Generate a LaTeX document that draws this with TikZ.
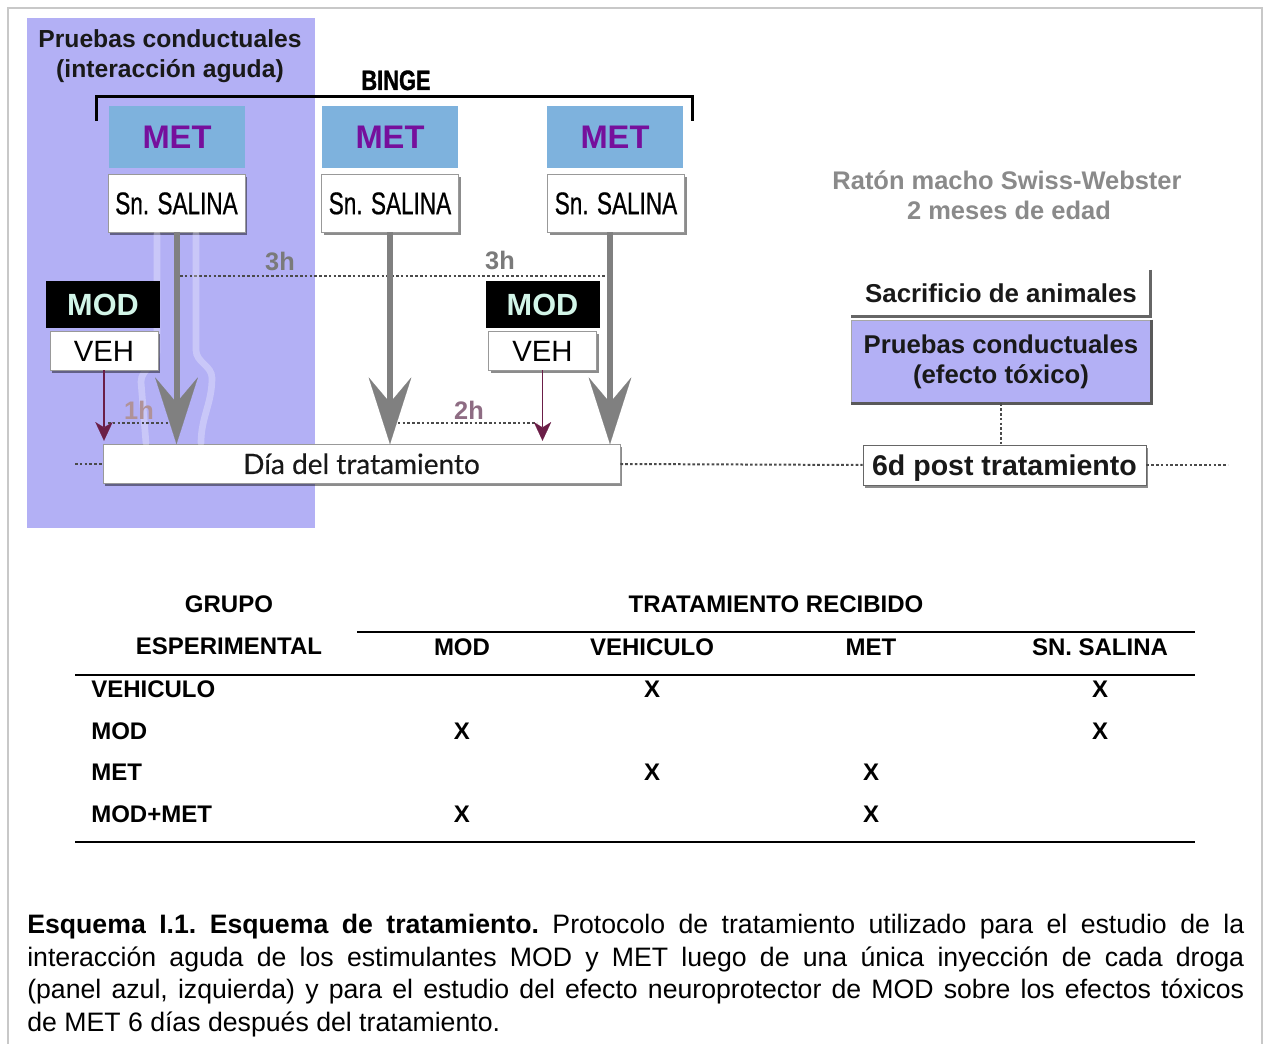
\documentclass[tikz,border=0pt]{standalone}
\usepackage{fontspec}
\setmainfont{Liberation Sans}
\newfontfamily\narrowfont[FakeStretch=0.72,FakeBold=0.6]{Liberation Sans}
\newfontfamily\bingefont[FakeStretch=0.78,FakeBold=1.2]{Liberation Sans}
\newfontfamily\roundfont[FakeBold=0.4]{Lato}
\usetikzlibrary{arrows.meta,shadows,calc}
\definecolor{panel}{HTML}{B3B0F5}
\definecolor{metblue}{HTML}{7EB2DD}
\definecolor{metpurple}{HTML}{760F9C}
\definecolor{arrowgray}{HTML}{808080}
\definecolor{maroonc}{HTML}{6B1E47}
\definecolor{mint}{HTML}{D2F5E8}
\definecolor{labelgray}{HTML}{7A7A7A}
\definecolor{txtgray}{HTML}{8A8A8A}
\definecolor{framec}{HTML}{C8C8C8}
\definecolor{dotgray}{HTML}{4A4A4A}
\definecolor{oneh}{HTML}{B09298}
\definecolor{twoh}{HTML}{8E6C83}
\newcommand\fsz[1]{\fontsize{#1pt}{#1pt}\selectfont}
\begin{document}
\begin{tikzpicture}[x=0.75pt,y=-0.75pt,
  whitebox/.style={draw=black!40, line width=0.6pt, fill=white, inner sep=0pt,
    drop shadow={shadow xshift=1.5pt, shadow yshift=-2pt, fill=black, opacity=0.45}},
  metbox/.style={fill=metblue, text=metpurple, minimum width=102pt, minimum height=46.5pt,
    inner sep=0pt, font=\fsz{24.5}\bfseries, text height=17.5pt, text depth=0pt},
  salbox/.style={whitebox, minimum width=102.75pt, minimum height=43.5pt,
    font=\narrowfont\fsz{23.5}, text height=16.8pt, text depth=0pt},
  modbox/.style={fill=black, text=mint, minimum width=85.5pt, minimum height=35.25pt,
    inner sep=0pt, font=\fsz{23}\bfseries, text height=16.5pt, text depth=0pt},
  vehbox/.style={whitebox, minimum width=81pt, minimum height=29.25pt,
    font=\fsz{22}, text height=15.8pt, text depth=0pt},
  bigarrow/.style={draw=arrowgray, line width=4.5pt,
    -{Stealth[length=50pt, width=32pt, inset=19pt, line width=0.1pt]}},
  redarrow/.style={draw=maroonc, line width=1.4pt, shorten >=2.5pt,
    -{Stealth[length=14pt, width=13pt, inset=4pt, line width=0.1pt]}},
  dotline/.style={draw=dotgray, line width=1.5pt, dash pattern=on 2pt off 1.6pt},
  halo/.style={draw=white, opacity=0.3, line width=5pt, line cap=round},
  hlab/.style={anchor=base, font=\fsz{19}\bfseries},
  tabtxt/.style={font=\fsz{18}\bfseries, inner sep=0pt},
  tabline/.style={line width=1.5pt},
  graytxt/.style={anchor=base, text=txtgray, font=\fsz{19.1}\bfseries}
]
\useasboundingbox (0,0) rectangle (1265,1044);
\fill[white] (0,0) rectangle (1265,1044);
\draw[framec, line width=1.5pt] (8,1050) -- (8,8) -- (1262,8) -- (1262,1050);
\fill[panel] (27,18) rectangle (315,528);

% panel title
\node[anchor=base, font=\fsz{18.5}\bfseries, text=black!90] (pt1) at (170,48) {Pruebas conductuales};
\node[anchor=base, font=\fsz{18.5}\bfseries, text=black!90] (pt2) at (170,78) {(interacción aguda)};

% BINGE bracket
\draw[line width=2.25pt] (96,121) -- (96,97) -- (692,97) -- (692,121);
\node[anchor=base, font=\bingefont\fsz{21}\bfseries] (binge) at (396,90) {BINGE};

% MET / saline boxes
\node[metbox] (m1) at (177,137) {MET};
\node[metbox] (m2) at (390,137) {MET};
\node[metbox] (m3) at (615,137) {MET};
\node[salbox] (s1) at (176.5,203) {Sn. SALINA};
\node[salbox] (s2) at (390,203) {Sn. SALINA};
\node[salbox] (s3) at (616,203) {Sn. SALINA};

% treatment day box
\node[whitebox, minimum width=387.75pt, minimum height=29.25pt,
  font=\roundfont\fsz{21}, text=black!90, text height=15pt, text depth=0pt] (dia) at (361.5,464) {Día del tratamiento};

% 3h dotted line and labels
\coordinate (h3a) at (180,276);
\coordinate (h3b) at (607,276);
\draw[dotline] (h3a) -- (h3b);
\node[hlab, text=labelgray] (l3a) at (280,271) {3h};
\node[hlab, text=labelgray] (l3b) at (500,270) {3h};

% halo around first arrow
\draw[halo] (157,234) -- (157,352) to[out=-90,in=90] (141,382) -- (146,443);
\draw[halo] (196,234) -- (196,350) to[out=-90,in=90] (212,378) to[out=-90,in=90] (201,443);

% 1h / 2h dotted lines
\coordinate (h1a) at (108,423);
\coordinate (h1b) at (172,423);
\coordinate (h2a) at (393,423);
\coordinate (h2b) at (537,423);
\draw[dotline] (h1a) -- (h1b);
\draw[dotline] (h2a) -- (h2b);
\node[hlab, text=oneh] (l1) at (139,420) {1h};
\node[hlab, text=twoh] (l2) at (469,420) {2h};

% big gray arrows
\draw[bigarrow] (s1.south) -- (s1.south |- dia.north);
\draw[bigarrow] (s2.south) -- (s2.south |- dia.north);
\draw[bigarrow] ([xshift=-4.5pt]s3.south) -- ([xshift=-4.5pt]s3.south |- dia.north);

% MOD / VEH boxes
\node[modbox] (mod1) at (103,304.5) {MOD};
\node[vehbox] (veh1) at (104,350.5) {VEH};
\node[modbox] (mod2) at (542.5,304.5) {MOD};
\node[vehbox] (veh2) at (542.5,350.5) {VEH};
\draw[redarrow] (veh1.south) -- (veh1.south |- dia.north);
\draw[redarrow] (veh2.south) -- (veh2.south |- dia.north);

% right part
\node[graytxt] (r1) at (1007,190) {Ratón macho Swiss-Webster};
\node[graytxt] (r2) at (1009,220) {2 meses de edad};

\node[anchor=base, font=\fsz{19.4}\bfseries, text=black!90] (sac) at (1001,303) {Sacrificio de animales};
\draw[draw=black!60, line width=2.25pt] (1150,270) -- (1150,317) -- (851,317);

\node[fill=panel, draw=black!35, line width=0.5pt, minimum width=225pt, minimum height=62.25pt,
  align=center, inner sep=0pt, text=black!90,
  font={\fontsize{19.3pt}{22.5pt}\selectfont\bfseries}] (pb) at (1001,361.5)
  {Pruebas conductuales\\(efecto tóxico)};
\draw[draw=black!65, line width=2pt] (pb.north east) -- (pb.south east) -- (pb.south west);

\node[whitebox, draw=black!60, minimum width=212.25pt, minimum height=30pt,
  font=\fsz{21.4}\bfseries, text=black!90, text height=15.4pt, text depth=0pt] (d6) at (1004.5,465) {6d post tratamiento};

\draw[dotline, line width=1.2pt] (pb.south) -- (pb.south |- d6.north);

% timeline
\coordinate (tl0) at (75,464);
\coordinate (tl1) at (1228,465);
\draw[dotline] (tl0) -- (dia.west);
\draw[dotline] (dia.east) -- (d6.west);
\draw[dotline] (d6.east) -- (tl1);

% table
\node[tabtxt] (g1) at (229,604) {GRUPO};
\node[tabtxt] (g2) at (229,646) {ESPERIMENTAL};
\node[tabtxt] (tr) at (776,604) {TRATAMIENTO RECIBIDO};
\node[tabtxt] (c1) at (462,647) {MOD};
\node[tabtxt] (c2) at (652,647) {VEHICULO};
\node[tabtxt] (c3) at (871,647) {MET};
\node[tabtxt] (c4) at (1100,647) {SN. SALINA};
\node[tabtxt, anchor=west] (r1l) at (91,689) {VEHICULO};
\node[tabtxt, anchor=west] (r2l) at (91,731) {MOD};
\node[tabtxt, anchor=west] (r3l) at (91,772) {MET};
\node[tabtxt, anchor=west] (r4l) at (91,814) {MOD+MET};
\node[tabtxt] (x12) at (652,689) {X};
\node[tabtxt] (x14) at (1100,689) {X};
\node[tabtxt] (x21) at (462,731) {X};
\node[tabtxt] (x24) at (1100,731) {X};
\node[tabtxt] (x32) at (652,772) {X};
\node[tabtxt] (x33) at (871,772) {X};
\node[tabtxt] (x41) at (462,814) {X};
\node[tabtxt] (x43) at (871,814) {X};
\draw[tabline] (357,632) -- (1195,632);
\draw[tabline] (75,675) -- (1195,675);
\draw[tabline] (75,842) -- (1195,842);

% caption
\node[anchor=north west, inner sep=0pt, text width=912.75pt, align=justify,
  font={\fontsize{20pt}{24.4pt}\selectfont}] (cap) at (27,914)
  {\frenchspacing\hyphenpenalty=10000\tolerance=10000\textbf{Esquema I.1. Esquema de tratamiento.} Protocolo de tratamiento utilizado para el estudio de la\linebreak
  interacción aguda de los estimulantes MOD y MET luego de una única inyección de cada droga\linebreak
  (panel azul, izquierda) y para el estudio del efecto neuroprotector de MOD sobre los efectos tóxicos\linebreak
  de MET 6 días después del tratamiento.};
\end{tikzpicture}
\end{document}
